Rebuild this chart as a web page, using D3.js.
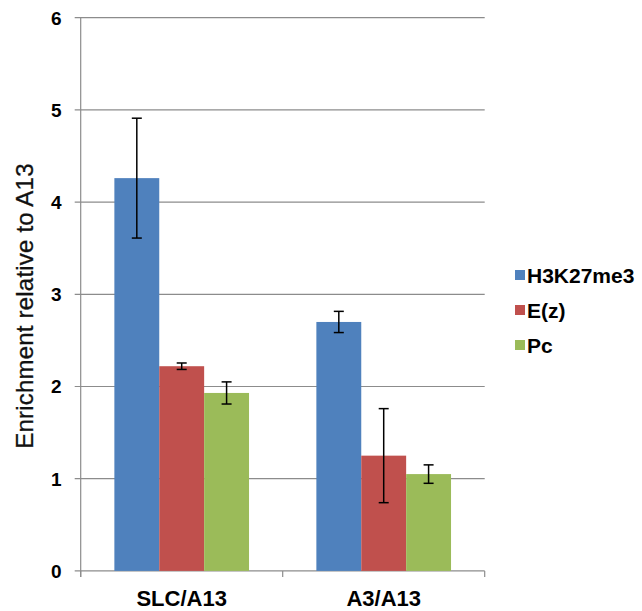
<!DOCTYPE html>
<html>
<head>
<meta charset="utf-8">
<script src="https://cdn.jsdelivr.net/npm/d3@7"></script>
<style>
  body { margin: 0; background: #fff; }
  text { font-family: "Liberation Sans", Arial, sans-serif; }
</style>
</head>
<body>
<div id="chart"></div>
<script>
// data
let categories = ["SLC/A13", "A3/A13"];
let seriesNames = ["H3K27me3", "E(z)", "Pc"];
let seriesColors = ["#4F81BD", "#C0504D", "#9BBB59"];
let h3k27me3 = [4.26, 2.70];
let ez = [2.22, 1.25];
let pc = [1.93, 1.05];
let h3k27me3Err = [0.65, 0.115];
let ezErr = [0.035, 0.51];
let pcErr = [0.12, 0.10];
let yTicks = [0, 1, 2, 3, 4, 5, 6];

let svgWidth = 642;
let svgHeight = 611;
let margin = { top: 17.7, right: 157, bottom: 40, left: 80.7 };
let width = 484.7 - margin.left;
let height = 570.9 - margin.top;

let svg = d3.select("#chart")
  .append("svg")
  .attr("width", svgWidth)
  .attr("height", svgHeight);

let chartGroup = svg.append("g")
  .attr("transform", `translate(${margin.left}, ${margin.top})`);

let values = [h3k27me3, ez, pc];
let errors = [h3k27me3Err, ezErr, pcErr];

// flatten into rows for the bars
let rows = [];
categories.forEach((c, ci) => {
  seriesNames.forEach((s, si) => {
    rows.push({ cat: c, series: s, value: values[si][ci], err: errors[si][ci], color: seriesColors[si] });
  });
});

let x0 = d3.scaleBand().domain(categories).range([0, width]).paddingInner(0).paddingOuter(0);
// Excel style gap width 150%
let x1 = d3.scaleBand().domain(seriesNames).range([0, x0.bandwidth()]).paddingOuter(0.75).paddingInner(0);
let y = d3.scaleLinear().domain([0, 6]).range([height, 0]);

// gridlines
chartGroup.append("g")
  .selectAll("line")
  .data(yTicks)
  .enter()
  .append("line")
    .attr("x1", -6)
    .attr("x2", width)
    .attr("y1", d => y(d))
    .attr("y2", d => y(d))
    .attr("stroke", "#8c8c8c")
    .attr("stroke-width", 1.2);

// y tick labels
chartGroup.append("g")
  .selectAll("text")
  .data(yTicks)
  .enter()
  .append("text")
    .attr("x", -19)
    .attr("y", d => y(d))
    .attr("dy", "0.36em")
    .attr("text-anchor", "end")
    .attr("font-size", 19)
    .attr("font-weight", "bold")
    .attr("fill", "#000")
    .text(d => d);

// bars
chartGroup.append("g")
  .selectAll("rect")
  .data(rows)
  .enter()
  .append("rect")
    .attr("x", d => x0(d.cat) + x1(d.series))
    .attr("y", d => y(d.value))
    .attr("width", x1.bandwidth())
    .attr("height", d => height - y(d.value))
    .attr("fill", d => d.color);

// error bars
let errGroup = chartGroup.append("g")
  .attr("stroke", "#000")
  .attr("stroke-width", 1.5);

rows.forEach(d => {
  let cx = x0(d.cat) + x1(d.series) + x1.bandwidth() / 2;
  let top = y(d.value + d.err);
  let bot = y(d.value - d.err);
  errGroup.append("line").attr("x1", cx).attr("x2", cx).attr("y1", top).attr("y2", bot);
  errGroup.append("line").attr("x1", cx - 5).attr("x2", cx + 5).attr("y1", top).attr("y2", top);
  errGroup.append("line").attr("x1", cx - 5).attr("x2", cx + 5).attr("y1", bot).attr("y2", bot);
});

// axes lines
chartGroup.append("line")
  .attr("x1", 0).attr("x2", 0)
  .attr("y1", 0).attr("y2", height + 6)
  .attr("stroke", "#8c8c8c").attr("stroke-width", 1.2);

chartGroup.append("g")
  .selectAll("line")
  .data(d3.range(categories.length + 1))
  .enter()
  .append("line")
    .attr("x1", d => d * x0.bandwidth())
    .attr("x2", d => d * x0.bandwidth())
    .attr("y1", height)
    .attr("y2", height + 6)
    .attr("stroke", "#8c8c8c")
    .attr("stroke-width", 1.2);

// category labels
chartGroup.append("g")
  .selectAll("text")
  .data(categories)
  .enter()
  .append("text")
    .attr("x", d => x0(d) + x0.bandwidth() / 2)
    .attr("y", height + 35)
    .attr("text-anchor", "middle")
    .attr("font-size", 22)
    .attr("font-weight", "bold")
    .text(d => d);

// y axis title
svg.append("text")
  .attr("transform", `translate(33, 306) rotate(-90)`)
  .attr("text-anchor", "middle")
  .attr("font-size", 24)
  .attr("letter-spacing", "0.2")
  .attr("fill", "#111")
  .attr("stroke", "#111")
  .attr("stroke-width", 0.3)
  .text("Enrichment relative to A13");

// legend
let legend = svg.append("g")
  .attr("transform", "translate(515, 275)");

seriesNames.forEach((s, i) => {
  let g = legend.append("g").attr("transform", `translate(0, ${i * 35})`);
  g.append("rect")
    .attr("x", 0).attr("y", -5)
    .attr("width", 10).attr("height", 10)
    .attr("fill", seriesColors[i]);
  g.append("text")
    .attr("x", 12)
    .attr("y", 0)
    .attr("dy", "0.36em")
    .attr("font-size", 21)
    .attr("font-weight", "bold")
    .text(s);
});
</script>
</body>
</html>
